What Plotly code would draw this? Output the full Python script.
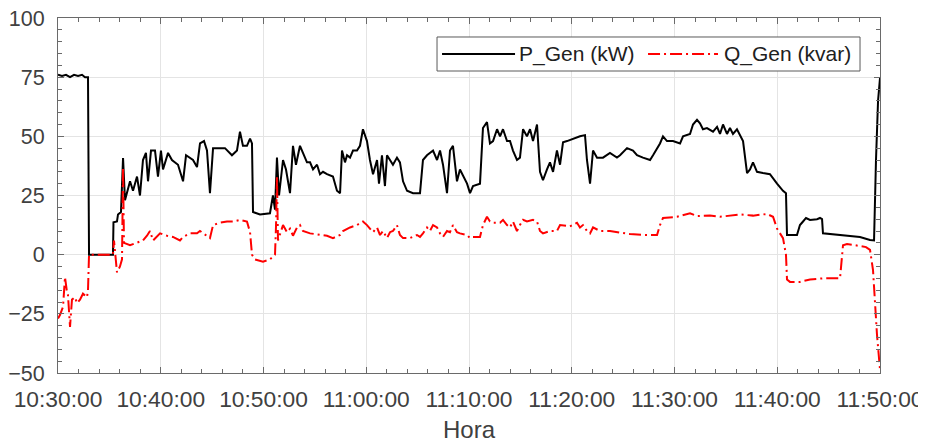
import pandas as pd
import plotly.graph_objects as go

# minutes after 10:30:00 and values
p_t = [0, 0.39, 0.78, 1.17, 1.56, 1.95, 2.34, 2.63, 2.92, 3.02, 5.35, 5.40, 5.74, 5.84, 6.13, 6.33,
       6.52, 7.01, 7.30, 7.69, 7.98, 8.27, 8.56, 8.76, 9.05, 9.44, 9.73, 10.02, 10.22, 10.71, 11.09,
       11.68, 12.17, 12.46, 13.14, 13.53, 13.82, 14.21, 14.50, 14.79, 15.09, 15.57, 16.25, 16.93,
       17.42, 17.71, 18.00, 18.39, 18.69, 18.88, 18.98, 19.66, 20.63, 20.92, 21.12, 21.31, 21.51,
       21.90, 22.19, 22.58, 22.87, 23.16, 23.55, 23.84, 24.23, 24.53, 24.82, 25.21, 25.50, 25.79,
       26.18, 26.76, 27.15, 27.45, 27.64, 27.93, 28.13, 28.42, 28.71, 29.10, 29.39, 29.68, 30.07,
       30.36, 30.66, 31.05, 31.24, 31.53, 31.82, 32.02, 32.31, 32.60, 32.99, 33.28, 33.58, 33.97,
       34.55, 35.23, 35.52, 35.91, 36.50, 36.89, 37.18, 37.47, 37.86, 38.15, 38.44, 38.83, 39.12,
       39.81, 40.10, 40.39, 41.07, 41.36, 41.75, 42.04, 42.34, 42.73, 43.02, 43.31, 43.70, 43.99,
       44.28, 44.67, 44.96, 45.26, 45.64, 45.94, 46.23, 46.62, 46.91, 47.20, 47.59, 47.88, 48.18,
       48.56, 48.86, 49.15, 49.54, 50.12, 50.80, 51.29, 51.48, 51.78, 52.07, 52.46, 53.04, 53.72,
       54.40, 54.70, 55.38, 55.96, 56.35, 56.93, 57.62, 57.91, 58.59, 58.88, 59.27, 59.85, 60.54,
       60.83, 61.51, 61.80, 62.19, 62.48, 62.77, 63.16, 63.75, 64.14, 64.43, 64.72, 65.11, 65.40,
       65.69, 66.08, 66.37, 66.67, 67.06, 67.35, 67.64, 68.03, 68.61, 69.29, 69.98, 70.56, 70.85,
       70.95, 71.92, 72.21, 72.51, 72.80, 73.19, 73.87, 74.16, 74.36, 74.45, 76.11, 78.05, 79.03,
       79.42, 79.61, 79.81, 80.0]
p_gen = [76, 75.5, 76, 75, 76, 75.5, 76, 75, 75, 0, 0, 13.7, 14, 17, 18, 40.8,
         23, 31, 27, 33, 25, 40, 43, 31, 44, 44, 33, 44, 36, 43, 40,
         38, 31, 42, 40, 37, 47, 48, 44, 26, 45, 45, 45, 42,
         44, 52, 46, 46, 49, 47, 18, 17, 17.5, 25, 19, 41, 25,
         40, 36, 26, 46, 38, 46, 43, 39, 39, 36, 38, 34, 35,
         34, 33, 27, 26, 44, 39, 42, 41, 44, 44, 46, 53, 48,
         40, 34, 40, 30, 42, 29, 42, 40, 38, 41, 39, 31, 27,
         26, 26, 40, 42, 44, 40, 44, 38, 26, 44, 46, 31, 36,
         30, 26, 29, 30, 53.5, 56, 47, 48, 53, 50, 53, 48, 48,
         44, 40, 41, 53, 50, 53, 48, 55, 35, 31.5, 36, 39, 35,
         44, 38, 47.5, 48, 49, 50, 50.5, 40, 30, 44, 41, 41, 43,
         41, 42, 45, 44, 42, 41, 40, 42, 47, 50, 48, 48, 47,
         50, 51, 55, 57, 55.5, 53, 53.5, 52, 54, 51, 55, 51, 53.5,
         51, 53, 50.5, 48, 34.5, 36, 39, 35, 34.5, 34, 30, 27, 26,
         8.3, 8.3, 12.5, 14, 15.5, 14.7, 15, 15.5, 15, 9, 8.3, 7.5, 6.2,
         6, 40, 65, 74.6]

q_t = [0, 0.19, 0.49, 0.68, 0.88, 0.97, 1.17, 1.36, 1.65, 1.85, 2.14, 2.43, 2.82, 2.92, 3.02,
       5.35, 5.45, 5.74, 6.03, 6.23, 6.33, 6.42, 7.01, 7.69, 8.27, 8.66, 8.95, 9.25, 9.64, 9.93,
       10.61, 11.19, 11.87, 12.17, 12.85, 13.53, 13.82, 14.50, 14.79, 15.09, 15.77, 16.45, 17.03,
       17.71, 18.39, 18.69, 18.88, 19.17, 19.95, 20.63, 21.12, 21.22, 21.31, 21.41, 21.90, 22.29,
       22.58, 22.87, 23.26, 23.55, 23.84, 24.53, 25.50, 26.18, 26.76, 27.45, 27.74, 28.42, 29.10,
       29.68, 30.07, 30.36, 30.66, 31.05, 31.34, 31.63, 32.02, 32.31, 32.60, 32.99, 33.28, 33.58,
       34.26, 34.94, 35.23, 35.52, 35.91, 36.20, 36.50, 36.89, 37.18, 37.47, 37.86, 38.15, 38.44,
       38.83, 39.12, 39.81, 40.10, 40.39, 41.07, 41.36, 41.75, 42.04, 42.34, 43.02, 43.31, 43.70,
       43.99, 44.28, 44.67, 44.96, 45.26, 45.64, 46.23, 46.62, 46.91, 47.20, 47.59, 47.88, 48.56,
       48.86, 49.83, 50.51, 50.80, 51.09, 51.48, 51.78, 52.07, 52.75, 53.72, 54.40, 54.99, 55.67,
       57.32, 58.30, 58.59, 58.88, 60.24, 61.51, 62.19, 63.45, 64.43, 66.37, 67.64, 69.00, 69.59,
       69.98, 70.56, 70.85, 70.95, 71.24, 72.21, 73.19, 74.45, 76.11, 76.40, 76.79, 77.57, 78.64,
       79.03, 79.32, 79.71, 79.90, 80.0]
q_gen = [-27, -25.5, -22, -9.5, -16, -17, -30.5, -19, -18, -20.5, -19, -16.5, -18, -15, 0,
         0, 6, -7.5, -5, -2, 37, 5, 4, 5, 6, 8, 10, 6, 7.5, 9,
         8, 7.5, 6, 7.5, 9, 9, 10, 8, 7, 12.5, 13.5, 14, 14,
         14.7, 14, 9.5, 0, -2, -3, -2, 0, 12.5, 33, 6, 12.5, 9.5,
         11, 8, 11.5, 12.5, 10, 9, 8.3, 8, 7, 8.3, 10, 11.5, 12.5,
         14, 12.5, 11, 9.5, 11.5, 8.3, 10, 7, 9.5, 10, 12.5, 8.3, 7,
         7, 8.3, 7.5, 9, 11.5, 10, 12.5, 11.5, 9, 7.5, 10, 9.5, 12.5,
         9.5, 9, 8.3, 7, 7.5, 7.5, 12.5, 16, 14, 13.5, 13.5, 14.7, 12.5,
         11.5, 14, 10, 12.5, 14.7, 14, 14.7, 14, 10, 9, 9.5, 10, 10,
         12.5, 12, 13.5, 11.5, 12.5, 10, 9, 11.5, 10, 10, 9.5, 9, 8.7,
         8.3, 8.3, 12.5, 15.5, 16, 17.5, 16.3, 16.5, 16, 17, 16.5, 17.2, 16,
         11, 7, 0, -10.5, -11.5, -11.5, -10.5, -10, -10, 4, 4.5, 4, 3.2,
         2, -6.5, -34, -46.5, -48.5]

series_names = ["P_Gen (kW)", "Q_Gen (kvar)"]
x_start = "2024-01-01 10:30:00"
x_end = "2024-01-01 11:50:00"
y_ticks = [-50, -25, 0, 25, 50, 75, 100]

FONT = "Liberation Sans, Arial, sans-serif"
TXT = "#404040"
AX = "#6a6a6a"
Q_DASH = "12px,4px,2px,4px"

base = pd.Timestamp(x_start)
p_x = base + pd.to_timedelta(p_t, unit="min")
q_x = base + pd.to_timedelta(q_t, unit="min")

fig = go.Figure()
fig.add_trace(go.Scatter(x=p_x, y=p_gen, mode="lines", name=series_names[0], showlegend=False,
                         line=dict(color="black", width=2)))
fig.add_trace(go.Scatter(x=q_x, y=q_gen, mode="lines", name=series_names[1], showlegend=False,
                         line=dict(color="#ff0000", width=2, dash=Q_DASH)))

axis_common = dict(showline=True, linecolor=AX, linewidth=1, mirror="allticks",
                   ticks="inside", ticklen=6, tickcolor=AX, automargin=False,
                   ticklabeloverflow="allow",
                   showgrid=True, gridcolor="#e4e4e4", gridwidth=1, zeroline=False)

fig.update_xaxes(**axis_common, type="date", range=[x_start, x_end], dtick=600000,
                 tick0=x_start, tickformat="%H:%M:%S", ticklabelstandoff=6,
                 tickfont=dict(family=FONT, size=22.8, color=TXT),
                 minor=dict(dtick=120000, ticks="inside", ticklen=4, tickcolor=AX, showgrid=False),
                 title=dict(text="Hora", font=dict(family=FONT, size=24, color=TXT), standoff=12))
fig.update_yaxes(**axis_common, range=[-50, 100], tickvals=y_ticks, ticklabelstandoff=8,
                 tickfont=dict(family=FONT, size=21.5, color=TXT),
                 minor=dict(dtick=5, ticks="inside", ticklen=4, tickcolor=AX, showgrid=False))

# legend box drawn in paper coordinates
lg_y = 0.8986
fig.add_shape(type="rect", xref="paper", yref="paper", x0=0.4611, x1=0.9757, y0=0.8507, y1=0.9465,
              line=dict(color="#5a5a5a", width=1), fillcolor="white", layer="above")
fig.add_shape(type="line", xref="paper", yref="paper", x0=0.4672, x1=0.5560, y0=lg_y, y1=lg_y,
              line=dict(color="black", width=2), layer="above")
fig.add_shape(type="line", xref="paper", yref="paper", x0=0.7178, x1=0.8029, y0=lg_y, y1=lg_y,
              line=dict(color="#ff0000", width=2, dash=Q_DASH), layer="above")
fig.add_annotation(xref="paper", yref="paper", x=0.5590, y=lg_y, xanchor="left", yanchor="middle",
                   text=series_names[0], showarrow=False,
                   font=dict(family=FONT, size=21, color="#202020"))
fig.add_annotation(xref="paper", yref="paper", x=0.8075, y=lg_y, xanchor="left", yanchor="middle",
                   text=series_names[1], showarrow=False,
                   font=dict(family=FONT, size=21, color="#202020"))

# the page places the figure 8px from its top-left corner
fig.update_layout(
    width=918, height=435,
    margin=dict(l=50, r=46, t=10, b=70, autoexpand=False),
    plot_bgcolor="white", paper_bgcolor="white",
    font=dict(family=FONT, color=TXT),
    showlegend=False,
)

fig.write_html("out.html")
